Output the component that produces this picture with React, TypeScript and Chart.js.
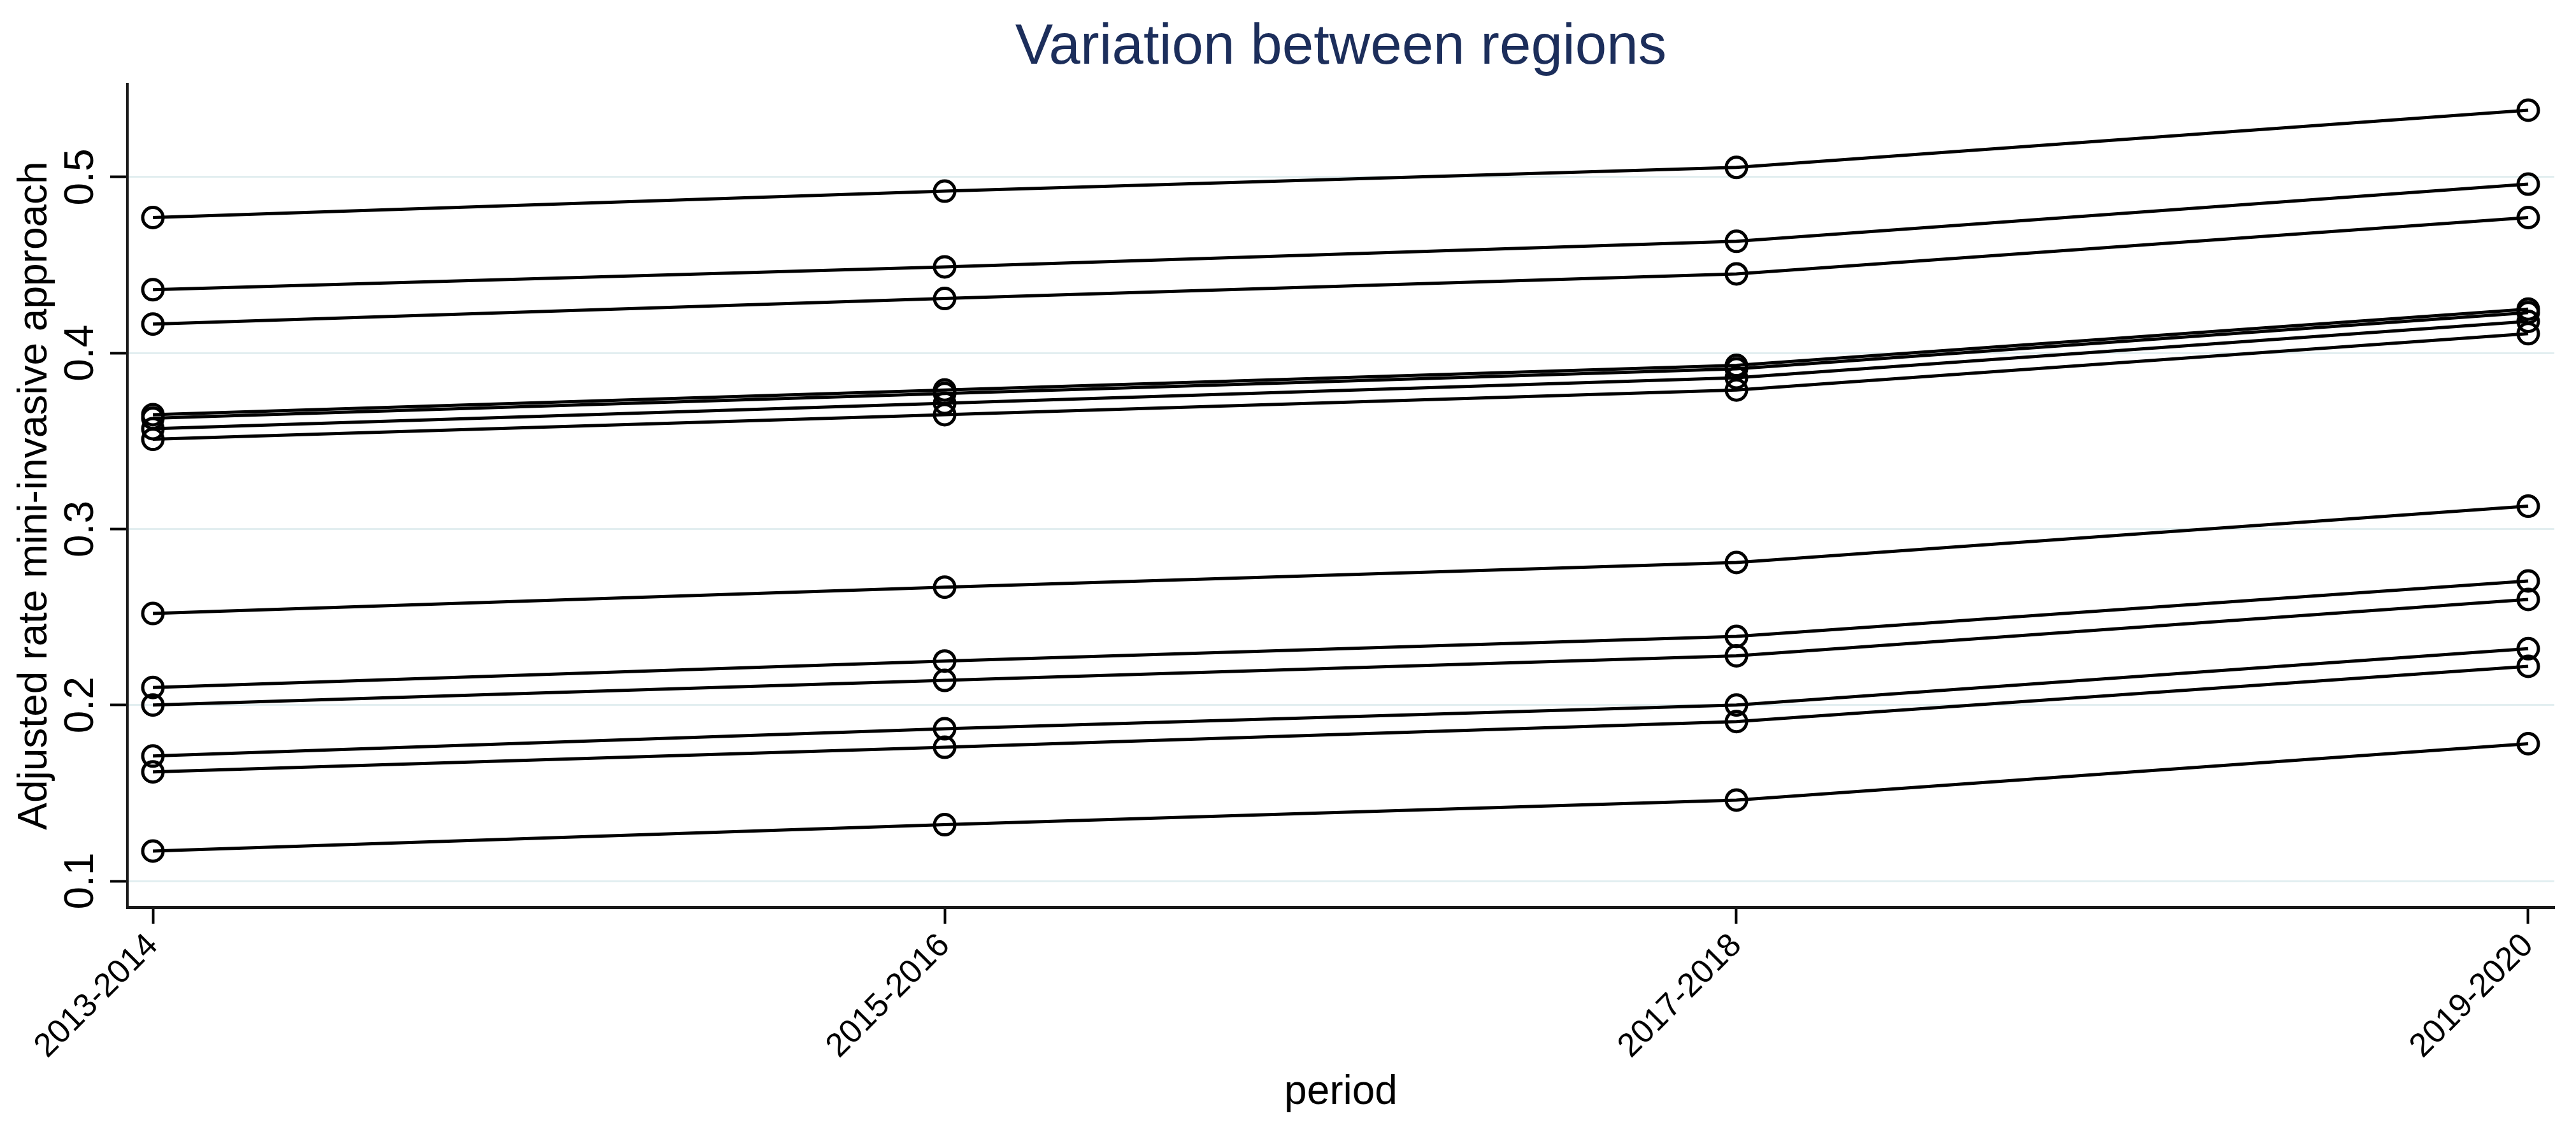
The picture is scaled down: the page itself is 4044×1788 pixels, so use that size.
import React, { useEffect, useRef } from "react";
import { Chart, registerables } from "chart.js";

Chart.register(...registerables);

const chartTitle = "Variation between regions";
const xTitle = "period";
const yTitle = "Adjusted rate mini-invasive approach";

const periods = ["2013-2014", "2015-2016", "2017-2018", "2019-2020"];

const region01 = [0.477, 0.492, 0.5055, 0.538];
const region02 = [0.436, 0.449, 0.4635, 0.496];
const region03 = [0.4165, 0.431, 0.445, 0.477];
const region04 = [0.365, 0.379, 0.393, 0.425];
const region05 = [0.363, 0.377, 0.391, 0.423];
const region06 = [0.357, 0.3715, 0.386, 0.418];
const region07 = [0.351, 0.365, 0.379, 0.411];
const region08 = [0.252, 0.267, 0.281, 0.313];
const region09 = [0.21, 0.225, 0.239, 0.2705];
const region10 = [0.2, 0.214, 0.228, 0.26];
const region11 = [0.171, 0.1865, 0.2, 0.232];
const region12 = [0.162, 0.176, 0.1906, 0.222];
const region13 = [0.117, 0.132, 0.146, 0.178];

const regions = [
  region01, region02, region03, region04, region05, region06, region07,
  region08, region09, region10, region11, region12, region13,
];

const yTicks = [0.1, 0.2, 0.3, 0.4, 0.5];

const FONT = '"Liberation Sans", Arial, Helvetica, sans-serif';

const titlePlugin = {
  id: "centeredTitle",
  afterDraw(chart: any) {
    const { ctx, chartArea } = chart;
    ctx.save();
    ctx.font = `89px ${FONT}`;
    ctx.fillStyle = "#1c2e5b";
    ctx.textAlign = "center";
    ctx.textBaseline = "alphabetic";
    ctx.fillText(chartTitle, (chartArea.left + chartArea.right) / 2, 100);
    ctx.restore();
  },
};

export default function App() {
  const ref = useRef<HTMLCanvasElement | null>(null);

  useEffect(() => {
    if (!ref.current) return;
    const chart = new Chart(ref.current, {
      type: "line",
      data: {
        datasets: regions.map((vals, k) => ({
          label: `Region ${k + 1}`,
          data: vals.map((v, i) => ({ x: i, y: v })),
          borderColor: "#000000",
          borderWidth: 5,
          backgroundColor: "rgba(0,0,0,0)",
          pointStyle: "circle",
          pointRadius: 16,
          pointBorderWidth: 5,
          pointBackgroundColor: "rgba(0,0,0,0)",
          pointBorderColor: "#000000",
          tension: 0,
          fill: false,
        })),
      },
      options: {
        responsive: false,
        animation: false,
        events: [],
        layout: { padding: { top: 132, right: 34, left: 0, bottom: 0 } },
        plugins: {
          legend: { display: false },
          title: { display: false },
          tooltip: { enabled: false },
        },
        scales: {
          x: {
            type: "linear",
            min: -0.0322,
            max: 3.033,
            afterBuildTicks: (scale: any) => {
              scale.ticks = periods.map((_, i) => ({ value: i }));
            },
            afterFit: (scale: any) => {
              scale.height = 364;
            },
            ticks: {
              autoSkip: false,
              minRotation: 45,
              maxRotation: 45,
              padding: 4,
              color: "#000000",
              font: { family: FONT, size: 52 },
              callback: (v: any) => periods[Math.round(Number(v))] ?? "",
            },
            grid: {
              drawOnChartArea: false,
              drawTicks: true,
              tickLength: 26,
              tickWidth: 4,
              tickColor: "#000000",
            },
            border: { display: true, color: "#1a1a1a", width: 5 },
            title: {
              display: true,
              text: xTitle,
              color: "#000000",
              font: { family: FONT, size: 64 },
              padding: { top: 0, bottom: 34 },
            },
          },
          y: {
            type: "linear",
            min: 0.08516,
            max: 0.55285,
            afterBuildTicks: (scale: any) => {
              scale.ticks = yTicks.map((v) => ({ value: v }));
            },
            afterFit: (scale: any) => {
              scale.width = 200;
            },
            ticks: {
              minRotation: 90,
              maxRotation: 90,
              crossAlign: "center",
              padding: 0,
              color: "#000000",
              font: { family: FONT, size: 64 },
              callback: (v: any) => Number(v).toFixed(1),
            },
            grid: {
              drawOnChartArea: true,
              color: "#e2eef0",
              lineWidth: 3,
              drawTicks: true,
              tickLength: 27,
              tickWidth: 4,
              tickColor: "#000000",
            },
            border: { display: true, color: "#1a1a1a", width: 4 },
            title: {
              display: true,
              text: yTitle,
              color: "#000000",
              font: { family: FONT, size: 64 },
              padding: { top: 17, bottom: 0 },
            },
          },
        },
      },
      plugins: [titlePlugin],
    });
    return () => chart.destroy();
  }, []);

  return (
    <div
      style={{
        position: "fixed",
        left: 0,
        top: 0,
        width: 4044,
        height: 1788,
        background: "#ffffff",
      }}
    >
      <canvas ref={ref} width={4044} height={1788} style={{ display: "block" }} />
    </div>
  );
}
